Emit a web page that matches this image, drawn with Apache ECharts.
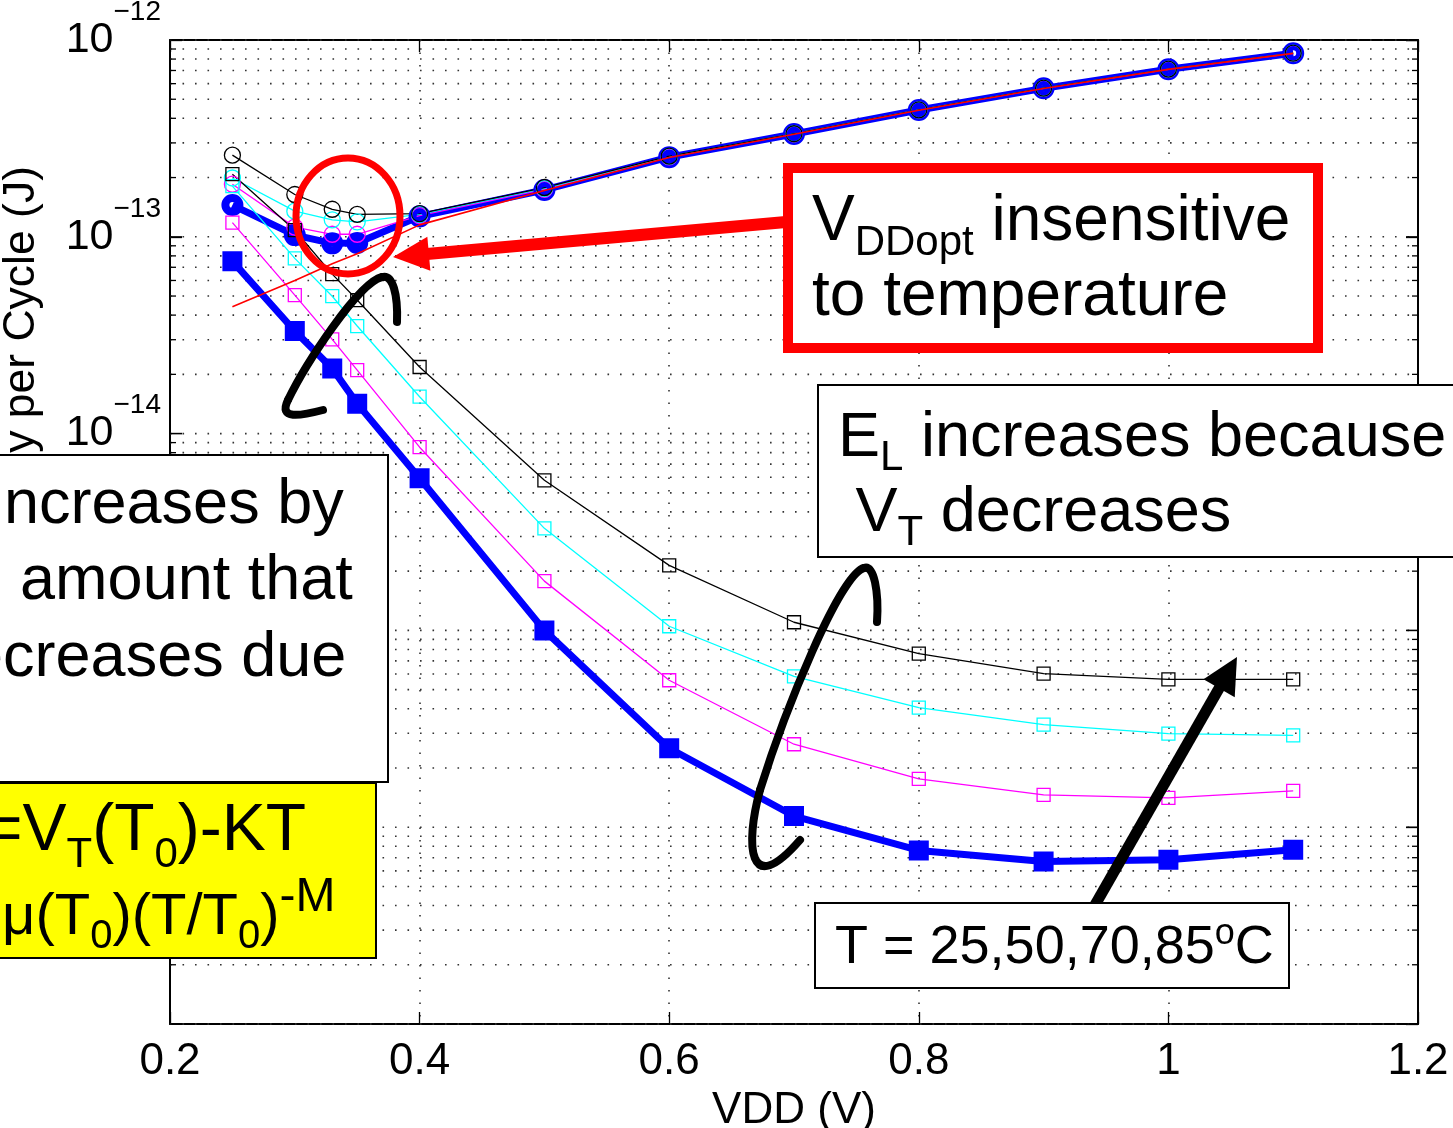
<!DOCTYPE html>
<html>
<head>
<meta charset="utf-8">
<script src="https://cdn.jsdelivr.net/npm/echarts@6/dist/echarts.min.js"></script>
<style>
  html, body { margin: 0; padding: 0; background: #fff; }
  #chart { width: 1453px; height: 1128px; }
</style>
</head>
<body>
<div id="chart"></div>
<script>
// Supply voltage sweep (V)
const vdd = [0.25, 0.3, 0.33, 0.35, 0.4, 0.5, 0.6, 0.7, 0.8, 0.9, 1.0, 1.1];

// Leakage energy per cycle (J), squares
const leak25 = [7.52e-14, 3.32e-14, 2.14e-14, 1.42e-14, 5.93e-15, 1.0e-15, 2.52e-16, 1.14e-16, 7.62e-17, 6.70e-17, 6.84e-17, 7.69e-17];
const leak50 = [1.18e-13, 5.05e-14, 3.01e-14, 2.10e-14, 8.53e-15, 1.78e-15, 5.58e-16, 2.64e-16, 1.76e-16, 1.46e-16, 1.41e-16, 1.53e-16];
const leak70 = [1.81e-13, 7.77e-14, 4.99e-14, 3.52e-14, 1.54e-14, 3.30e-15, 1.05e-15, 5.84e-16, 4.05e-16, 3.32e-16, 2.99e-16, 2.93e-16];
const leak85 = [2.08e-13, 1.08e-13, 6.46e-14, 4.77e-14, 2.18e-14, 5.79e-15, 2.14e-15, 1.10e-15, 7.62e-16, 6.03e-16, 5.64e-16, 5.64e-16];

// Total energy per cycle (J), circles
const total25 = [1.45e-13, 1.02e-13, 9.26e-14, 9.30e-14, 1.27e-13, 1.73e-13, 2.54e-13, 3.33e-13, 4.41e-13, 5.68e-13, 7.10e-13, 8.56e-13];
const total50 = [1.85e-13, 1.12e-13, 1.03e-13, 1.03e-13, 1.28e-13, 1.74e-13, 2.55e-13, 3.33e-13, 4.41e-13, 5.68e-13, 7.10e-13, 8.56e-13];
const total70 = [1.99e-13, 1.35e-13, 1.22e-13, 1.19e-13, 1.30e-13, 1.76e-13, 2.56e-13, 3.34e-13, 4.42e-13, 5.69e-13, 7.11e-13, 8.57e-13];
const total85 = [2.60e-13, 1.64e-13, 1.38e-13, 1.30e-13, 1.31e-13, 1.78e-13, 2.57e-13, 3.34e-13, 4.42e-13, 5.69e-13, 7.11e-13, 8.57e-13];

// Dynamic (switching) energy per cycle (J), red line
const dynamic = [4.41e-14, 6.0e-14, 7.3e-14, 8.2e-14, 1.15e-13, 1.72e-13, 2.53e-13, 3.32e-13, 4.40e-13, 5.67e-13, 7.09e-13, 8.55e-13];

// Axis ranges and tick labels
const xMin = 0.2, xMax = 1.2, xStep = 0.2;
const yMin = 1e-17, yMax = 1e-12;
const xTickLabels = ['0.2', '0.4', '0.6', '0.8', '1', '1.2'];

const FONT = '"Liberation Sans", Arial, Helvetica, sans-serif';
const BLUE = '#0000ff', MAGENTA = '#ff00ff', CYAN = '#00ffff', BLACK = '#000000', RED = '#ff0000';

const pairs = ys => vdd.map((x, i) => [x, ys[i]]);

function totalSeries(name, ys, color, thick) {
  return {
    name, type: 'line', data: pairs(ys), silent: true, z: 2,
    symbol: 'circle', symbolSize: thick ? 14 : 16,
    lineStyle: { color, width: thick ? 7 : 1.3 },
    itemStyle: { color: 'rgba(0,0,0,0)', borderColor: color, borderWidth: thick ? 8 : 1.3 },
    emphasis: { disabled: true }
  };
}
function leakSeries(name, ys, color, thick) {
  return {
    name, type: 'line', data: pairs(ys), silent: true, z: 2,
    symbol: 'rect', symbolSize: thick ? 17 : 13,
    lineStyle: { color, width: thick ? 7 : 1.3 },
    itemStyle: thick
      ? { color, borderColor: color, borderWidth: 3 }
      : { color: 'rgba(0,0,0,0)', borderColor: color, borderWidth: 1.3 },
    emphasis: { disabled: true }
  };
}

// Log-grid levels: 1..9 x 10^e for each decade in range
const gridLevels = [];
for (let e = -17; e <= -12; e++) {
  for (let m = 1; m <= 9; m++) {
    if (e === -12 && m > 1) break;
    gridLevels.push([xMin, m * Math.pow(10, e), m]);
  }
}

// Measured text runs (base text + sub/superscripts) for annotation boxes
const measureCtx = document.createElement('canvas').getContext('2d');
function textRun(x, baseline, parts) {
  const els = [];
  let cx = x;
  parts.forEach(p => {
    const font = p.size + 'px ' + FONT;
    measureCtx.font = font;
    const w = measureCtx.measureText(p.text).width;
    const bl = baseline + (p.dy || 0);
    els.push({
      type: 'text', x: cx, y: bl - 0.347 * p.size, z: 101, silent: true,
      style: { text: p.text, font, fill: p.color || '#000', align: 'left', verticalAlign: 'middle' }
    });
    cx += w;
  });
  return els;
}

function arrow(tail, tip, shaftW, headL, headHalf, color) {
  const dx = tip[0] - tail[0], dy = tip[1] - tail[1];
  const len = Math.hypot(dx, dy);
  const ux = dx / len, uy = dy / len;
  const bx = tip[0] - ux * headL, by = tip[1] - uy * headL;
  const nx = -uy, ny = ux;
  return [
    { type: 'line', z: 100, silent: true,
      shape: { x1: tail[0], y1: tail[1], x2: bx + ux * 2, y2: by + uy * 2 },
      style: { stroke: color, lineWidth: shaftW } },
    { type: 'polygon', z: 100, silent: true,
      shape: { points: [tip, [bx + nx * headHalf, by + ny * headHalf], [bx - nx * headHalf, by - ny * headHalf]] },
      style: { fill: color } }
  ];
}

function curve(p0, c1, c2, p1) {
  return { type: 'bezierCurve', z: 100, silent: true,
    shape: { x1: p0[0], y1: p0[1], cpx1: c1[0], cpy1: c1[1], cpx2: c2[0], cpy2: c2[1], x2: p1[0], y2: p1[1] },
    style: { stroke: '#000', lineWidth: 8, fill: null, lineCap: 'round' } };
}

const graphics = [].concat(
  // y axis title (reads bottom to top, right end anchored near the top)
  [{ type: 'text', x: 22, y: 166, rotation: Math.PI / 2, z: 99, silent: true,
     style: { text: 'Energy per Cycle (J)', font: '44.5px ' + FONT, fill: '#000', align: 'right', verticalAlign: 'middle' } }],
  // red highlight around the minimum-energy region
  [{ type: 'ellipse', z: 100, silent: true, shape: { cx: 348, cy: 216, rx: 52, ry: 58 },
     style: { stroke: RED, lineWidth: 7, fill: null } }],
  arrow([786, 222], [393, 257], 12, 36, 17, RED),
  // red-framed note
  [{ type: 'rect', z: 100, silent: true, shape: { x: 788, y: 168, width: 530, height: 180 },
     style: { fill: '#fff', stroke: RED, lineWidth: 10 } }],
  textRun(812, 245, [{ text: 'V', size: 64 }, { text: 'DDopt', size: 42, dy: 13 }, { text: ' insensitive', size: 64 }]),
  textRun(812, 320, [{ text: 'to temperature', size: 64 }]),
  // leakage note
  [{ type: 'rect', z: 100, silent: true, shape: { x: 818, y: 385, width: 660, height: 172 },
     style: { fill: '#fff', stroke: '#000', lineWidth: 2 } }],
  textRun(838, 460, [{ text: 'E', size: 63 }, { text: 'L', size: 42, dy: 13 }, { text: ' increases because', size: 63 }]),
  textRun(838, 535, [{ text: ' V', size: 63 }, { text: 'T', size: 42, dy: 13 }, { text: ' decreases', size: 63 }]),
  // left note
  [{ type: 'rect', z: 100, silent: true, shape: { x: -20, y: 455, width: 408, height: 327 },
     style: { fill: '#fff', stroke: '#000', lineWidth: 2 } }],
  textRun(-10, 527, [{ text: 'increases by', size: 63 }]),
  textRun(-85, 603, [{ text: 'the amount that', size: 63 }]),
  textRun(-67, 680, [{ text: 'decreases due', size: 63 }]),
  // model equations
  [{ type: 'rect', z: 100, silent: true, shape: { x: -20, y: 783, width: 396, height: 175 },
     style: { fill: '#ffff00', stroke: '#000', lineWidth: 2 } }],
  textRun(-16, 855, [{ text: '=V', size: 66 }, { text: 'T', size: 42, dy: 15 }, { text: '(T', size: 66 },
                     { text: '0', size: 42, dy: 15 }, { text: ')-KT', size: 66 }]),
  textRun(2, 938, [{ text: '\u03bc', size: 58 }, { text: '(T', size: 58 }, { text: '0', size: 40, dy: 13 },
                   { text: ')(T/T', size: 58 }, { text: '0', size: 40, dy: 13 }, { text: ')', size: 58 },
                   { text: '-M', size: 48, dy: -24 }]),
  // temperature note and arrow
  arrow([1095, 905], [1237, 657], 11, 36, 18, '#000'),
  [{ type: 'rect', z: 100, silent: true, shape: { x: 815, y: 903, width: 474, height: 85 },
     style: { fill: '#fff', stroke: '#000', lineWidth: 2 } }],
  textRun(835, 967, [{ text: 'T = 25,50,70,85', size: 54 }, { text: 'o', size: 36, dy: -20 }, { text: 'C', size: 54 }]),
  // hand-drawn loops around the leakage curves
  [curve([397, 322], [398, 295], [393, 274], [382, 277]),
   curve([382, 277], [358, 283], [305, 365], [288, 400]),
   curve([288, 400], [278, 420], [300, 416], [323, 410]),
   curve([877, 622], [879, 592], [874, 564], [864, 568]),
   curve([864, 568], [840, 574], [785, 710], [760, 790]),
   curve([760, 790], [745, 845], [748, 900], [800, 840])]
);

const axisLine = { show: true, onZero: false, lineStyle: { color: '#000', width: 2 } };
const tickStyle = { color: '#000', width: 1.3 };

const option = {
  animation: false,
  backgroundColor: '#fff',
  grid: { left: 170, right: 35, top: 40, bottom: 104, containLabel: false, outerBoundsMode: 'none' },
  xAxis: [
    {
      type: 'value', min: xMin, max: xMax, interval: xStep, position: 'bottom',
      axisLine, axisTick: { show: true, inside: true, length: 12, lineStyle: tickStyle },
      axisLabel: {
        show: true, margin: 16, color: '#000', fontSize: 44, fontFamily: FONT,
        showMinLabel: true, showMaxLabel: true,
        formatter: v => xTickLabels[Math.round((v - xMin) / xStep)]
      },
      splitLine: { show: true, lineStyle: { color: '#333', width: 1.6, type: [1.6, 10.9] } },
      name: 'VDD (V)', nameLocation: 'middle', nameGap: 60,
      nameTextStyle: { fontSize: 44, color: '#000', fontFamily: FONT }
    },
    {
      type: 'value', min: xMin, max: xMax, interval: xStep, position: 'top',
      axisLine, axisTick: { show: true, inside: true, length: 12, lineStyle: tickStyle },
      axisLabel: { show: false }, splitLine: { show: false }
    }
  ],
  yAxis: [
    {
      type: 'log', logBase: 10, min: yMin, max: yMax, splitNumber: 5, position: 'left',
      axisLine, axisTick: { show: true, inside: true, length: 12, lineStyle: tickStyle },
      axisLabel: {
        show: true, margin: 9, showMinLabel: false, showMaxLabel: true,
        formatter: v => '{b|10}{s|\u2212' + (-Math.round(Math.log10(v))) + '}',
        rich: {
          b: { fontSize: 43, fontFamily: FONT, color: '#000', lineHeight: 84, verticalAlign: 'middle' },
          s: { fontSize: 28, fontFamily: FONT, color: '#000', lineHeight: 22, verticalAlign: 'top' }
        }
      },
      splitLine: { show: false }
    },
    {
      type: 'log', logBase: 10, min: yMin, max: yMax, splitNumber: 5, position: 'right',
      axisLine, axisTick: { show: true, inside: true, length: 12, lineStyle: tickStyle },
      axisLabel: { show: false }, splitLine: { show: false }
    }
  ],
  graphic: graphics,
  series: [
    {
      // dotted log grid and minor ticks
      type: 'custom', silent: true, z: 1, clip: false,
      data: gridLevels, encode: { x: 0, y: 1 },
      renderItem: (params, api) => {
        const cs = params.coordSys;
        const y = api.coord([xMin, api.value(1)])[1];
        const L = api.value(2) === 1 ? 12 : 6;
        const x0 = cs.x, x1 = cs.x + cs.width;
        return {
          type: 'group',
          children: [
            { type: 'line', shape: { x1: x0, y1: y, x2: x1, y2: y },
              style: { stroke: '#333', lineWidth: 1.6, lineDash: [1.6, 10.9] } },
            { type: 'line', shape: { x1: x0, y1: y, x2: x0 + L, y2: y }, style: { stroke: '#000', lineWidth: 1.3 } },
            { type: 'line', shape: { x1: x1 - L, y1: y, x2: x1, y2: y }, style: { stroke: '#000', lineWidth: 1.3 } }
          ]
        };
      }
    },
    totalSeries('E total 25C', total25, BLUE, true),
    leakSeries('E leak 25C', leak25, BLUE, true),
    totalSeries('E total 50C', total50, MAGENTA, false),
    leakSeries('E leak 50C', leak50, MAGENTA, false),
    totalSeries('E total 70C', total70, CYAN, false),
    leakSeries('E leak 70C', leak70, CYAN, false),
    totalSeries('E total 85C', total85, BLACK, false),
    leakSeries('E leak 85C', leak85, BLACK, false),
    {
      name: 'E dynamic', type: 'line', data: pairs(dynamic), silent: true, z: 3,
      symbol: 'none', lineStyle: { color: RED, width: 1.6 }, emphasis: { disabled: true }
    }
  ]
};

const chart = echarts.init(document.getElementById('chart'), null, { renderer: 'canvas' });
chart.setOption(option);
</script>
</body>
</html>
